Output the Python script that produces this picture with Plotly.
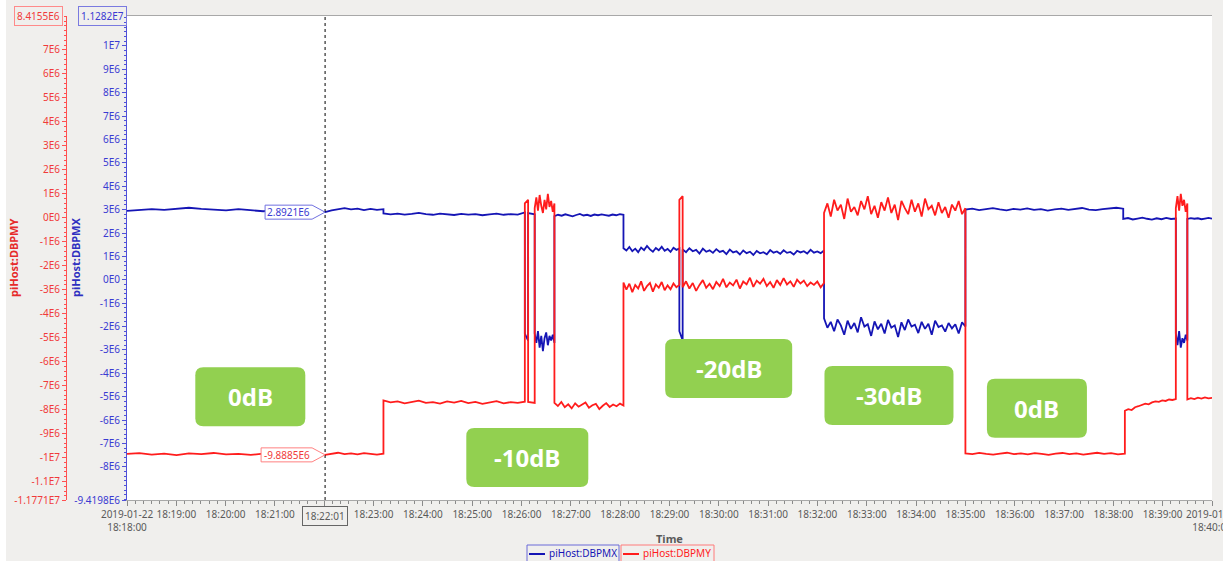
import numpy as np
import pandas as pd
import plotly.graph_objects as go

# ---------------------------------------------------------------- data
T0 = pd.Timestamp("2019-01-22 18:18:00")
T_END_S = 1320

# cursor readout at 18:22:01 (values in units of 1E6)
cursor_s = 241
cursor_dbpmx = 2.8921
cursor_dbpmy = -9.8885

# piHost:DBPMX, piecewise segments: breakpoints in seconds after 18:18:00, samples in 1E6
dbpmx_breaks = [0, 241, 312, 484, 488, 496, 520, 604, 672, 676, 848, 1020, 1212, 1276, 1290, 1320]
dbpmx_s00 = [2.95, 2.98, 3.02, 2.99, 3.05, 3.08, 3.03, 3.00, 2.97, 3.02, 2.96, 2.93, 2.98, 2.95, 2.91, 2.94, 2.90]
dbpmx_s01 = [cursor_dbpmx, 2.97, 3.03, 3.06, 3.01, 3.04, 2.98, 3.03, 2.99, 3.02]
dbpmx_s02 = [2.84, 2.80, 2.83, 2.79, 2.82, 2.86, 2.81, 2.78, 2.83, 2.80, 2.77, 2.82, 2.79, 2.81, 2.76,
             2.80, 2.83, 2.78, 2.81, 2.79, 2.88]
dbpmx_s03 = [-2.3, -2.6]
dbpmx_s04 = [2.85, 2.80]
dbpmx_s05 = [-2.3, -2.7, -2.2, -2.9, -2.4, -3.05, -2.5, -2.25, -2.8, -2.4, -2.6, -2.35, -2.7]
dbpmx_s06 = [2.72, 2.78, 2.74, 2.80, 2.76, 2.71, 2.77, 2.82, 2.75, 2.78, 2.73, 2.79, 2.76, 2.80, 2.77,
             2.74, 2.79, 2.76, 2.81, 2.78]
dbpmx_s07 = [1.35, 1.25, 1.40, 1.22, 1.33, 1.18, 1.38, 1.27, 1.45, 1.30, 1.20, 1.36, 1.26, 1.41, 1.24,
             1.32, 1.19, 1.37, 1.28, 1.34]
dbpmx_s08 = [-2.2, -2.6]
dbpmx_s09 = [1.30, 1.18, 1.35, 1.22, 1.28, 1.12, 1.33, 1.20, 1.26, 1.15, 1.31, 1.19, 1.24, 1.10, 1.29,
             1.17, 1.22, 1.08, 1.25, 1.14, 1.20, 1.06, 1.23, 1.13, 1.18, 1.09, 1.27, 1.16, 1.21, 1.11,
             1.26, 1.15, 1.19, 1.08, 1.24, 1.17, 1.22, 1.12, 1.28, 1.16, 1.21, 1.14, 1.25]
dbpmx_s10 = [-1.65, -2.05, -1.80, -2.20, -1.70, -1.95, -2.35, -1.75, -2.10, -1.85, -2.25, -1.60, -2.00,
             -1.90, -2.40, -1.78, -2.12, -1.88, -2.30, -1.72, -2.05, -1.95, -2.45, -1.82, -2.15, -1.70,
             -2.00, -1.92, -2.28, -1.80, -2.10, -1.88, -2.35, -1.75, -2.02, -1.95, -2.22, -1.85, -2.08,
             -1.90, -2.30, -1.82, -2.00]
dbpmx_s11 = [3.00, 3.04, 2.98, 3.02, 3.06, 3.01, 2.97, 3.03, 3.00, 3.05, 2.99, 3.02, 2.96, 3.01, 3.04,
             2.99, 3.03, 3.07, 3.00, 2.98, 3.02, 3.05, 3.08, 3.04]
dbpmx_s12 = [2.60, 2.64, 2.58, 2.62, 2.66, 2.61, 2.57, 2.63, 2.59, 2.65, 2.60, 2.62]
dbpmx_s13 = [-2.3, -2.8, -2.2, -2.9, -2.5, -2.7, -2.35, -2.6]
dbpmx_s14 = [2.60, 2.64, 2.61, 2.63, 2.59, 2.62, 2.65, 2.61]

# piHost:DBPMY, same layout
dbpmy_breaks = [0, 241, 312, 484, 488, 496, 520, 604, 672, 676, 848, 1020, 1214, 1276, 1290, 1320]
dbpmy_s00 = [-9.85, -9.82, -9.88, -9.84, -9.90, -9.83, -9.86, -9.81, -9.87, -9.85, -9.89, -9.84, -9.86,
             -9.82, -9.88, -9.85, -9.89]
dbpmy_s01 = [cursor_dbpmy, -9.84, -9.80, -9.86, -9.83, -9.87, -9.82, -9.85, -9.88, -9.84]
dbpmy_s02 = [-7.62, -7.70, -7.66, -7.74, -7.68, -7.63, -7.72, -7.69, -7.75, -7.66, -7.71, -7.64, -7.73,
             -7.68, -7.76, -7.70, -7.65, -7.74, -7.69, -7.72, -7.67]
dbpmy_s03 = [0.60, 0.75]
dbpmy_s04 = [-7.68, -7.72]
dbpmy_s05 = [0.40, 0.85, 0.30, 0.95, 0.50, 0.20, 0.75, 0.35, 1.00, 0.45, 0.70, 0.25, 0.60]
dbpmy_s06 = [-7.72, -7.85, -7.68, -7.90, -7.78, -7.95, -7.74, -7.88, -7.80, -7.70, -7.92, -7.82, -7.76,
             -7.98, -7.84, -7.73, -7.89, -7.79, -7.86, -7.75, -7.83]
dbpmy_s07 = [-2.70, -3.00, -2.75, -3.10, -2.80, -2.95, -2.65, -3.05, -2.85, -2.72, -3.08, -2.78, -2.92,
             -2.68, -3.02, -2.82, -2.98, -2.74, -2.90, -2.80]
dbpmy_s08 = [0.75, 0.90]
dbpmy_s09 = [-2.90, -2.65, -2.95, -2.72, -3.05, -2.80, -2.60, -2.92, -2.75, -2.98, -2.68, -2.85, -2.55,
             -2.90, -2.70, -2.82, -2.58, -2.95, -2.66, -2.78, -2.50, -2.88, -2.62, -2.75, -2.55, -2.85,
             -2.68, -2.92, -2.60, -2.80, -2.52, -2.78, -2.65, -2.88, -2.58, -2.74, -2.62, -2.85, -2.70,
             -2.80, -2.66, -2.90, -2.72]
dbpmy_s10 = [0.20, 0.60, 0.05, 0.75, 0.30, 0.55, -0.05, 0.80, 0.25, 0.45, 0.10, 0.70, 0.35, 0.90, 0.15,
             0.50, 0.00, 0.65, 0.30, 0.85, 0.20, 0.55, -0.10, 0.70, 0.40, 0.15, 0.75, 0.25, 0.60, 0.05,
             0.80, 0.35, 0.50, 0.10, 0.65, 0.20, 0.45, 0.00, 0.55, 0.30, 0.70, 0.15, 0.40]
dbpmy_s11 = [-9.83, -9.86, -9.81, -9.85, -9.88, -9.84, -9.80, -9.86, -9.83, -9.87, -9.82, -9.85, -9.89,
             -9.84, -9.81, -9.86, -9.83, -9.88, -9.84, -9.80, -9.85, -9.82, -9.87, -9.84]
dbpmy_s12 = [-8.05, -7.98, -8.02, -7.90, -7.86, -7.82, -7.75, -7.78, -7.70, -7.66, -7.68, -7.62, -7.64,
             -7.58, -7.60, -7.56]
dbpmy_s13 = [0.40, 0.90, 0.30, 1.00, 0.50, 0.75, 0.25, 0.60]
dbpmy_s14 = [-7.58, -7.52, -7.56, -7.50, -7.54, -7.49, -7.53, -7.51]

# axis ranges and tick labels
dbpmx_range = [-9.4198e6, 1.1282e7]
dbpmy_range = [-1.1771e7, 8.4155e6]
dbpmx_tickvals = [-9.4198e6] + [k * 1e6 for k in range(-8, 11)]
dbpmx_ticktext = ["-9.4198E6", "-8E6", "-7E6", "-6E6", "-5E6", "-4E6", "-3E6", "-2E6", "-1E6", "0E0",
                  "1E6", "2E6", "3E6", "4E6", "5E6", "6E6", "7E6", "8E6", "9E6", "1E7"]
dbpmy_tickvals = [-1.1771e7] + [k * 1e6 for k in range(-11, 8)]
dbpmy_ticktext = ["-1.1771E7", "-1.1E7", "-1E7", "-9E6", "-8E6", "-7E6", "-6E6", "-5E6", "-4E6", "-3E6",
                  "-2E6", "-1E6", "0E0", "1E6", "2E6", "3E6", "4E6", "5E6", "6E6", "7E6"]
time_tick_minutes = list(range(0, 23))
time_tick_text = ["2019-01-22<br>18:18:00", "18:19:00", "18:20:00", "18:21:00", "", "18:23:00",
                  "18:24:00", "18:25:00", "18:26:00", "18:27:00", "18:28:00", "18:29:00", "18:30:00",
                  "18:31:00", "18:32:00", "18:33:00", "18:34:00", "18:35:00", "18:36:00", "18:37:00",
                  "18:38:00", "18:39:00", "2019-01-22<br>18:40:00"]

# attenuation tags: text, time (s), level on DBPMX axis (1E6), box width px
tag_text = ["0dB", "-10dB", "-20dB", "-30dB", "0dB"]
tag_time_s = [150, 487, 732, 927, 1107]
tag_level = [-5.0, -7.6, -3.8, -4.95, -5.5]
tag_width = [110, 122, 127, 129, 100]


# ---------------------------------------------------------------- helpers
def build_series(breaks, segments):
    t, v = [], []
    for i, vals in enumerate(segments):
        ts = np.linspace(breaks[i], breaks[i + 1], len(vals))
        t.extend(ts)
        v.extend(vals)
    return T0 + pd.to_timedelta(np.array(t), unit="s"), np.array(v) * 1e6


def rounded_rect(w, h, r=8):
    a, b = w / 2, h / 2
    return (f"M {-a + r},{-b} L {a - r},{-b} Q {a},{-b} {a},{-b + r} L {a},{b - r} Q {a},{b} {a - r},{b} "
            f"L {-a + r},{b} Q {-a},{b} {-a},{b - r} L {-a},{-b + r} Q {-a},{-b} {-a + r},{-b} Z")


dbpmx_t, dbpmx_v = build_series(dbpmx_breaks, [
    dbpmx_s00, dbpmx_s01, dbpmx_s02, dbpmx_s03, dbpmx_s04, dbpmx_s05, dbpmx_s06, dbpmx_s07,
    dbpmx_s08, dbpmx_s09, dbpmx_s10, dbpmx_s11, dbpmx_s12, dbpmx_s13, dbpmx_s14])
dbpmy_t, dbpmy_v = build_series(dbpmy_breaks, [
    dbpmy_s00, dbpmy_s01, dbpmy_s02, dbpmy_s03, dbpmy_s04, dbpmy_s05, dbpmy_s06, dbpmy_s07,
    dbpmy_s08, dbpmy_s09, dbpmy_s10, dbpmy_s11, dbpmy_s12, dbpmy_s13, dbpmy_s14])

# ---------------------------------------------------------------- figure
W, H = 1223, 561
ML, MR, MT, MB = 66, 11, 16, 61
PW, PH = W - ML - MR, H - MT - MB
X_DOM0 = (127 - ML) / PW

BLUE = "#1515b5"
RED = "#ff1c1c"
BLUE_TXT = "#3a3ad2"
RED_TXT = "#f03a3a"
GRAY_TXT = "#5a5a5a"
FONT = "Noto Sans"
TICK_SIZE = 10


def px_x(p):
    return (p - ML) / PW


def px_y(p):
    return (H - MB - p) / PH


fig = go.Figure()
fig.add_trace(go.Scatter(x=dbpmx_t, y=dbpmx_v, mode="lines", name="piHost:DBPMX",
                         line=dict(color=BLUE, width=1.8), yaxis="y", showlegend=False))
fig.add_trace(go.Scatter(x=dbpmy_t, y=dbpmy_v, mode="lines", name="piHost:DBPMY",
                         line=dict(color=RED, width=1.8), yaxis="y2", showlegend=False))

cursor_time = T0 + pd.Timedelta(seconds=cursor_s)
cursor_str = cursor_time.strftime("%Y-%m-%d %H:%M:%S")

shapes = []
annotations = []

# white strip at far left edge
shapes.append(dict(type="rect", xref="paper", yref="paper", x0=px_x(0), x1=px_x(6), y0=-0.3, y1=1.2,
                   fillcolor="white", line=dict(width=0), layer="below"))

# cursor line
shapes.append(dict(type="line", xref="x", yref="paper", x0=cursor_str, x1=cursor_str, y0=0, y1=1,
                   line=dict(color="black", width=1, dash="dot")))

# cursor value callouts
for val, yref, col, txtcol, left in [(cursor_dbpmx, "y", "#7070e0", BLUE_TXT, -60),
                                     (cursor_dbpmy, "y2", "#ff8080", RED_TXT, -64)]:
    shapes.append(dict(type="path", xref="x", yref=yref, xsizemode="pixel", ysizemode="pixel",
                       xanchor=cursor_str, yanchor=val * 1e6,
                       path=f"M {left},-7 L -13,-7 L 0,0 L -13,7 L {left},7 Z",
                       fillcolor="white", line=dict(color=col, width=1)))
    annotations.append(dict(x=cursor_str, y=val * 1e6, xref="x", yref=yref, showarrow=False,
                            text=f"{val:.4f}E6", xanchor="center", yanchor="middle",
                            xshift=(left - 13) / 2, font=dict(family=FONT, size=10, color=txtcol)))

# attenuation tags
for txt, ts, lvl, w in zip(tag_text, tag_time_s, tag_level, tag_width):
    tx = (T0 + pd.Timedelta(seconds=ts)).strftime("%Y-%m-%d %H:%M:%S")
    shapes.append(dict(type="path", xref="x", yref="y", xsizemode="pixel", ysizemode="pixel",
                       xanchor=tx, yanchor=lvl * 1e6, path=rounded_rect(w, 59),
                       fillcolor="#92d050", line=dict(width=0)))
    annotations.append(dict(x=tx, y=lvl * 1e6, xref="x", yref="y", showarrow=False,
                            text=f"<b>{txt}</b>", xanchor="center", yanchor="middle",
                            font=dict(family="Open Sans", size=24, color="white")))

# cursor time label on the time axis
annotations.append(dict(x=cursor_str, y=px_y(506), xref="x", yref="paper", showarrow=False,
                        text="18:22:01", xanchor="center", yanchor="top", bordercolor="#666",
                        borderwidth=1, borderpad=2, font=dict(family=FONT, size=TICK_SIZE, color=GRAY_TXT)))

# axis maxima boxes
annotations.append(dict(x=0, y=1, xref="paper", yref="paper", showarrow=False, text="8.4155E6",
                        xanchor="right", yanchor="middle", xshift=-3, bordercolor="#ff8a8a",
                        borderwidth=1, borderpad=2, font=dict(family=FONT, size=TICK_SIZE, color=RED_TXT)))
annotations.append(dict(x=X_DOM0, y=1, xref="paper", yref="paper", showarrow=False, text="1.1282E7",
                        xanchor="right", yanchor="middle", xshift=0, bordercolor="#7a7ae0",
                        borderwidth=1, borderpad=2, font=dict(family=FONT, size=TICK_SIZE, color=BLUE_TXT)))

# axis titles
annotations.append(dict(x=px_x(13), y=0.5, xref="paper", yref="paper", showarrow=False,
                        text="<b>piHost:DBPMY</b>", textangle=-90, xanchor="center", yanchor="middle",
                        font=dict(family=FONT, size=11, color="#e62a2a")))
annotations.append(dict(x=px_x(75), y=0.5, xref="paper", yref="paper", showarrow=False,
                        text="<b>piHost:DBPMX</b>", textangle=-90, xanchor="center", yanchor="middle",
                        font=dict(family=FONT, size=11, color="#2f2fc0")))
annotations.append(dict(x=(X_DOM0 + 1) / 2, y=px_y(538), xref="paper", yref="paper", showarrow=False,
                        text="<b>Time</b>", xanchor="center", yanchor="middle",
                        font=dict(family=FONT, size=11, color=GRAY_TXT)))

# legend entries
for name, col, box_col, x0, x1 in [("piHost:DBPMX", BLUE, "#6a6ad8", 527, 619),
                                   ("piHost:DBPMY", RED, "#ff7a7a", 621, 714)]:
    shapes.append(dict(type="rect", xref="paper", yref="paper", x0=px_x(x0), x1=px_x(x1),
                       y0=px_y(575), y1=px_y(545), line=dict(color=box_col, width=1),
                       fillcolor="rgba(0,0,0,0)"))
    shapes.append(dict(type="line", xref="paper", yref="paper", x0=px_x(x0 + 2), x1=px_x(x0 + 18),
                       y0=px_y(554), y1=px_y(554), line=dict(color=col, width=2)))
    annotations.append(dict(x=px_x(x0 + 20), y=px_y(553), xref="paper", yref="paper", showarrow=False,
                            text=name, xanchor="left", yanchor="middle",
                            font=dict(family=FONT, size=TICK_SIZE, color=col)))

fig.update_layout(
    width=W, height=H, autosize=False,
    margin=dict(l=ML, r=MR, t=MT, b=MB, pad=0, autoexpand=False),
    paper_bgcolor="#f0efed", plot_bgcolor="white",
    font=dict(family=FONT, size=TICK_SIZE),
    shapes=shapes, annotations=annotations,
    xaxis=dict(
        type="date", domain=[X_DOM0, 1], automargin=False,
        range=[T0, T0 + pd.Timedelta(seconds=T_END_S)],
        tickvals=[T0 + pd.Timedelta(minutes=m) for m in time_tick_minutes],
        ticktext=time_tick_text, tickangle=0, ticklabeloverflow="allow",
        tickfont=dict(family=FONT, size=TICK_SIZE, color=GRAY_TXT),
        ticks="outside", ticklen=5, tickcolor="#8a8a8a",
        minor=dict(ticks="outside", dtick=10000, tick0=T0, ticklen=3, tickcolor="#8a8a8a"),
        showline=True, linecolor="#a8a8a8", linewidth=1, mirror=True,
        showgrid=False, zeroline=False,
    ),
    yaxis=dict(
        range=dbpmx_range, anchor="x", side="left", automargin=False,
        tickmode="array", tickvals=dbpmx_tickvals, ticktext=dbpmx_ticktext,
        tickfont=dict(family=FONT, size=TICK_SIZE, color=BLUE_TXT),
        ticks="outside", ticklen=4, tickcolor="#5050d8",
        minor=dict(tickmode="linear", tick0=0, dtick=2e5, ticks="outside", ticklen=2, tickcolor="#5050d8"),
        showline=True, linecolor="#5050d8", linewidth=1,
        showgrid=False, zeroline=False,
    ),
    yaxis2=dict(
        range=dbpmy_range, overlaying="y", anchor="free", position=0, side="left", automargin=False,
        tickmode="array", tickvals=dbpmy_tickvals, ticktext=dbpmy_ticktext,
        tickfont=dict(family=FONT, size=TICK_SIZE, color=RED_TXT),
        ticks="outside", ticklen=4, tickcolor="#ff5050",
        minor=dict(tickmode="linear", tick0=0, dtick=2e5, ticks="outside", ticklen=2, tickcolor="#ff5050"),
        showline=True, linecolor="#ff5050", linewidth=1,
        showgrid=False, zeroline=False,
    ),
)

fig.write_html("out.html", config={"displayModeBar": False})
